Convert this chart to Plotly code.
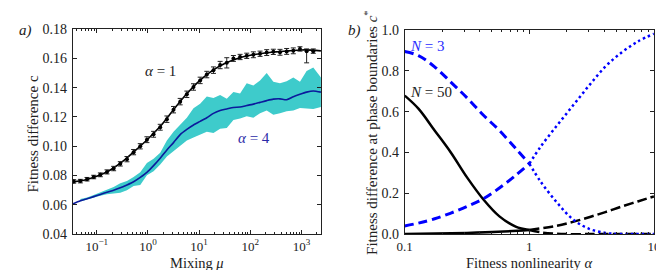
import numpy as np
import plotly.graph_objects as go

# ---------------- Panel a) data ----------------
# alpha = 1 : simulation points (log10 mu), fitness difference c, error
a1_log_mu = [-1.45, -1.32, -1.19, -1.06, -0.93, -0.80, -0.67, -0.54, -0.41, -0.28,
             -0.15, -0.02, 0.11, 0.24, 0.37, 0.50, 0.63, 0.76, 0.89, 1.02,
             1.15, 1.28, 1.41, 1.54, 1.67, 1.80, 1.93, 2.06, 2.19, 2.32,
             2.45, 2.58, 2.71, 2.84, 2.97, 3.10, 3.23]
a1_c = [0.0760, 0.0762, 0.0775, 0.0790, 0.0805, 0.0825, 0.0848, 0.0880, 0.0912, 0.0960,
        0.1000, 0.1045, 0.1082, 0.1130, 0.1185, 0.1250, 0.1305, 0.1355, 0.1405, 0.1450,
        0.1490, 0.1520, 0.1555, 0.1570, 0.1600, 0.1610, 0.1618, 0.1625, 0.1632, 0.1640,
        0.1645, 0.1642, 0.1648, 0.1652, 0.1665, 0.1650, 0.1650]
a1_err = [0.0012, 0.0012, 0.0012, 0.0012, 0.0013, 0.0014, 0.0015, 0.0015, 0.0018, 0.0018,
          0.0018, 0.0020, 0.0020, 0.0020, 0.0022, 0.0022, 0.0022, 0.0022, 0.0022, 0.0022,
          0.0022, 0.0022, 0.0025, 0.0035, 0.0020, 0.0018, 0.0018, 0.0020, 0.0018, 0.0020,
          0.0018, 0.0020, 0.0020, 0.0020, 0.0015, 0.0015, 0.0015]
a1_err_minus = list(a1_err)
a1_err_minus[35] = 0.0080

# alpha = 1 : smooth fit curve
fit_log_mu = [-1.47, -1.25, -1.0, -0.75, -0.5, -0.25, 0.0, 0.25, 0.5, 0.75, 1.0,
              1.25, 1.5, 1.75, 2.0, 2.25, 2.5, 2.75, 3.0, 3.2, 3.38]
fit_c = [0.0757, 0.0768, 0.0795, 0.0835, 0.0895, 0.0970, 0.1050, 0.1140, 0.1250, 0.1355,
         0.1445, 0.1515, 0.1565, 0.1600, 0.1622, 0.1636, 0.1645, 0.1652, 0.1658, 0.1657, 0.1652]

# alpha = 4 : mean curve and band
a4_log_mu = [-1.47, -1.32, -1.19, -1.06, -0.93, -0.80, -0.67, -0.54, -0.41, -0.28,
             -0.15, -0.02, 0.11, 0.24, 0.37, 0.50, 0.63, 0.76, 0.89, 1.02,
             1.15, 1.28, 1.41, 1.54, 1.67, 1.80, 1.93, 2.06, 2.19, 2.32,
             2.45, 2.58, 2.71, 2.84, 2.97, 3.10, 3.23, 3.38]
a4_mean = [0.0606, 0.0628, 0.0642, 0.0656, 0.0671, 0.0686, 0.0700, 0.0716, 0.0736, 0.0758,
           0.0788, 0.0822, 0.0868, 0.0918, 0.0975, 0.1025, 0.1080, 0.1115, 0.1145, 0.1170,
           0.1195, 0.1225, 0.1245, 0.1255, 0.1265, 0.1268, 0.1278, 0.1288, 0.1300, 0.1312,
           0.1322, 0.1324, 0.1318, 0.1338, 0.1355, 0.1370, 0.1378, 0.1370]
a4_low = [None, 0.0622, 0.0636, 0.0648, 0.0662, 0.0672, 0.0680, 0.0683, 0.0700, 0.0728,
          0.0735, 0.0802, 0.0830, 0.0875, 0.0930, 0.0965, 0.1005, 0.1040, 0.1060, 0.1080,
          0.1100, 0.1090, 0.1120, 0.1125, 0.1180, 0.1190, 0.1205, 0.1195, 0.1225, 0.1245,
          0.1215, 0.1225, 0.1240, 0.1245, 0.1262, 0.1258, 0.1255, 0.1268]
a4_high = [None, 0.0640, 0.0650, 0.0668, 0.0686, 0.0700, 0.0722, 0.0748, 0.0762, 0.0790,
           0.0822, 0.0885, 0.0915, 0.0955, 0.1040, 0.1100, 0.1150, 0.1195, 0.1260, 0.1290,
           0.1340, 0.1330, 0.1350, 0.1325, 0.1370, 0.1360, 0.1430, 0.1415, 0.1450, 0.1500,
           0.1440, 0.1430, 0.1445, 0.1470, 0.1440, 0.1515, 0.1538, 0.1470]

a_xtick_vals = [0.1, 1, 10, 100, 1000]
a_xtick_text = ["10<sup>−1</sup>", "10<sup>0</sup>", "10<sup>1</sup>", "10<sup>2</sup>", "10<sup>3</sup>"]
a_yticks = [0.04, 0.06, 0.08, 0.10, 0.12, 0.14, 0.16, 0.18]

# ---------------- Panel b) data ----------------
n3_desc_lo_log = [-1.0, -0.89, -0.76, -0.63, -0.5, -0.37, -0.24, -0.11, 0.0]
n3_desc_lo = [0.895, 0.875, 0.820, 0.745, 0.668, 0.584, 0.508, 0.420, 0.345]
n3_desc_hi_log = [0.0, 0.09, 0.22, 0.35, 0.48, 0.61, 0.70, 0.80, 0.90, 1.0]
n3_desc_hi = [0.345, 0.258, 0.156, 0.072, 0.026, 0.006, 0.001, 0.0, 0.0, 0.0]
n3_asc_lo_log = [-1.0, -0.89, -0.76, -0.63, -0.5, -0.37, -0.24, -0.11, 0.0]
n3_asc_lo = [0.040, 0.054, 0.075, 0.103, 0.135, 0.173, 0.226, 0.288, 0.345]
n3_asc_hi_log = [0.0, 0.09, 0.22, 0.35, 0.48, 0.61, 0.74, 0.87, 1.0]
n3_asc_hi = [0.345, 0.428, 0.531, 0.630, 0.729, 0.821, 0.890, 0.944, 0.982]

n50_desc_lo_log = [-1.0, -0.89, -0.76, -0.63, -0.5, -0.37, -0.24, -0.11, 0.0]
n50_desc_lo = [0.679, 0.615, 0.508, 0.400, 0.278, 0.171, 0.087, 0.037, 0.020]
n50_asc_lo_log = [-1.0, -0.75, -0.5, -0.25, 0.0]
n50_asc_lo = [0.001, 0.003, 0.006, 0.011, 0.020]
n50_asc_hi_log = [0.0, 0.22, 0.35, 0.48, 0.61, 0.74, 0.87, 1.0]
n50_asc_hi = [0.020, 0.041, 0.060, 0.083, 0.108, 0.135, 0.160, 0.185]
n50_desc_hi_log = [0.0, 0.1, 0.2, 0.3, 0.5, 1.0]
n50_desc_hi = [0.020, 0.008, 0.002, 0.0, 0.0, 0.0]

b_xtick_vals = [0.1, 1, 10]
b_xtick_text = ["0.1", "1", "10"]
b_yticks = [0.0, 0.2, 0.4, 0.6, 0.8, 1.0]

FONT = "Liberation Serif"
W, H = 664, 270
BOTTOM = 232


def px(v):
    return 10 ** np.array(v, dtype=float)


def minor_vals(lo, hi):
    out = []
    for d in range(lo, hi + 1):
        for m in range(2, 10):
            out.append(m * 10.0 ** d)
    return out


fig = go.Figure()

# band (alpha = 4)
band_x = [10 ** v for v, lo in zip(a4_log_mu, a4_low) if lo is not None]
band_lo = [lo for lo in a4_low if lo is not None]
band_hi = [hi for hi in a4_high if hi is not None]
fig.add_trace(go.Scatter(x=band_x, y=band_lo, mode="lines", line=dict(width=0, color="#3ECBCB"),
                         showlegend=False, hoverinfo="skip", xaxis="x", yaxis="y"))
fig.add_trace(go.Scatter(x=band_x, y=band_hi, mode="lines", line=dict(width=0, color="#3ECBCB"),
                         fill="tonexty", fillcolor="#3ECBCB", showlegend=False,
                         hoverinfo="skip", xaxis="x", yaxis="y"))
fig.add_trace(go.Scatter(x=px(a4_log_mu), y=a4_mean, mode="lines",
                         line=dict(color="#0B1A9C", width=1.6, shape="spline", smoothing=0.6),
                         showlegend=False, xaxis="x", yaxis="y"))

# alpha = 1 fit and points
fig.add_trace(go.Scatter(x=px(fit_log_mu), y=fit_c, mode="lines",
                         line=dict(color="black", width=1.6, shape="spline"),
                         showlegend=False, xaxis="x", yaxis="y"))
fig.add_trace(go.Scatter(x=px(a1_log_mu), y=a1_c, mode="markers",
                         marker=dict(color="black", size=4),
                         error_y=dict(type="data", array=a1_err, arrayminus=a1_err_minus,
                                      color="#222222", thickness=1, width=2.5),
                         showlegend=False, xaxis="x", yaxis="y"))

# panel b
def addb(lx, y, color, width, dash):
    fig.add_trace(go.Scatter(x=px(lx), y=y, mode="lines",
                             line=dict(color=color, width=width, dash=dash, shape="spline"),
                             showlegend=False, xaxis="x2", yaxis="y2"))

addb(n50_asc_lo_log, n50_asc_lo, "black", 2.5, "solid")
addb(n50_desc_hi_log, n50_desc_hi, "black", 2.5, "10px,4px")
addb(n50_asc_hi_log, n50_asc_hi, "black", 2.5, "10px,4px")
addb(n50_desc_lo_log, n50_desc_lo, "black", 2.5, "solid")
addb(n3_desc_hi_log, n3_desc_hi, "#0000FF", 2.5, "2.5px,3px")
addb(n3_asc_hi_log, n3_asc_hi, "#0000FF", 2.5, "2.5px,3px")
addb(n3_desc_lo_log, n3_desc_lo, "#0000FF", 3, "9px,5px")
addb(n3_asc_lo_log, n3_asc_lo, "#0000FF", 3, "9px,5px")

axis_common = dict(showline=True, linecolor="#222222", linewidth=1, mirror="allticks",
                   ticks="inside", ticklen=4, tickwidth=1, tickcolor="#222222",
                   showgrid=False, zeroline=False)
ytick_font = dict(family=FONT, size=14, color="#222222")
xtick_font = dict(family=FONT, size=13, color="#222222")

fig.update_layout(
    width=W, height=H, margin=dict(l=0, r=0, t=0, b=0),
    paper_bgcolor="white", plot_bgcolor="white",
    font=dict(family=FONT, size=14, color="#222222"),
    xaxis=dict(type="log", range=[-1.47, 3.38], domain=[58 / W, 312 / W],
               tickvals=a_xtick_vals, ticktext=a_xtick_text, anchor="y",
               tickfont=xtick_font,
               minor=dict(tickvals=minor_vals(-2, 3), ticks="inside", ticklen=2,
                          tickcolor="#222222", showgrid=False),
               **axis_common),
    yaxis=dict(range=[0.04, 0.18], domain=[1 - BOTTOM / H, 1 - 15 / H],
               tickvals=a_yticks, tickformat=".2f", anchor="x", ticklabelstandoff=2,
               tickfont=ytick_font, **axis_common),
    xaxis2=dict(type="log", range=[-1, 1], domain=[397.7 / W, 652.7 / W],
                tickvals=b_xtick_vals, ticktext=b_xtick_text, anchor="y2",
                tickfont=xtick_font,
                minor=dict(tickvals=minor_vals(-1, 0), ticks="inside", ticklen=2,
                           tickcolor="#222222", showgrid=False),
                **axis_common),
    yaxis2=dict(range=[0, 1], domain=[1 - BOTTOM / H, 1 - 16 / H],
                tickvals=b_yticks, tickformat=".1f", anchor="x2", ticklabelstandoff=2,
                tickfont=ytick_font, **axis_common),
)

ann = []
def txt(text, x, y, size=15, color="#222222", xref="paper", yref="paper", angle=0,
        xanchor="center", yanchor="middle"):
    ann.append(dict(text=text, x=x, y=y, xref=xref, yref=yref, showarrow=False,
                    textangle=angle, xanchor=xanchor, yanchor=yanchor,
                    font=dict(family=FONT, size=size, color=color)))

txt("<i>a)</i>", 10 / W, 1 - 16 / H)
txt("<i>b)</i>", 346 / W, 1 - 16 / H)
txt("Fitness difference c", 17 / W, 1 - 126 / H, angle=-90)
txt("Fitness difference at phase boundaries <i>c</i><sup>*</sup>", 363 / W, 1 - 124 / H, angle=-90)
txt("Mixing <i>μ</i>", 185 / W, -3 / H, yanchor="bottom", size=14.5)
txt("Fitness nonlinearity <i>α</i>", 525 / W, -3 / H, yanchor="bottom", size=14.5)
txt("<i>α</i> = 1", 0.24, 0.1512, xref="x", yref="y")
txt("<i>α</i> = 4", 2.07, 0.1058, xref="x", yref="y", color="#2B2BA8")
txt("<i>N</i> = 3", -0.975, 0.922, xref="x2", yref="y2", color="#2B2BFF", xanchor="left")
txt("<i>N</i> = 50", -0.975, 0.697, xref="x2", yref="y2", xanchor="left")
fig.update_layout(annotations=ann)

fig.write_html("out.html")
